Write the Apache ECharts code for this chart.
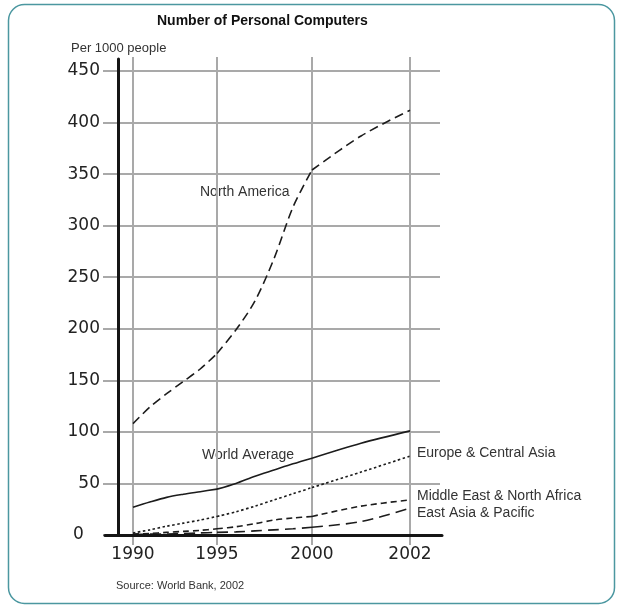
<!DOCTYPE html>
<html>
<head>
<meta charset="utf-8">
<script src="https://cdn.jsdelivr.net/npm/echarts@6/dist/echarts.min.js"></script>
<style>
html,body{margin:0;padding:0;background:#fff;}
#chart{width:619px;height:606px;}
</style>
</head>
<body>
<div id="chart"></div>
<script>
// ---- data ----
const years = [1990, 1991, 1992, 1993, 1994, 1995, 1996, 1997, 1998, 1999, 2000, 2001, 2002];
const northAmerica = [108, 124, 137, 149, 161, 176, 199, 227, 268, 318, 354, 387, 412];
const worldAverage = [27, 32, 36.5, 39.5, 42, 44.5, 50, 57, 63, 69, 74.5, 89, 101];
const europeCentralAsia = [2, 5, 8.5, 11.5, 14.5, 18, 22.5, 28, 34, 40, 46, 61, 76.5];
const middleEastNorthAfrica = [1, 1.5, 2.5, 3.5, 4.5, 6, 8, 11, 14.5, 16.5, 18, 28, 34];
const eastAsiaPacific = [0.5, 0.8, 1, 1.5, 2, 2.5, 3, 4, 5, 6, 7.5, 13, 26];
const yTicks = [0, 450, 50];          // min, max, interval
const xTickYears = [1990, 1995, 2000, 2002];

// ---- layout ----
const GRAY = '#a9a9a9';
const BLACK = '#151515';
const numFont = 'DejaVu Sans';
const txtFont = 'Liberation Sans, Arial, sans-serif';
const segGeom = [[133, 84], [217, 95], [312, 98]];
const segs = [];
for (let i = 0; i < xTickYears.length - 1; i++) segs.push([xTickYears[i], xTickYears[i + 1]]);

const grid = [
  {left: 118, top: 71, width: 322, height: 464},   // 0: horizontal lines
  {left: 118, top: 59, width: 10, height: 476},    // 1: black y axis line
  {left: 105, top: 59, width: 337, height: 476}    // 2: black x axis line
];
segGeom.forEach(g => grid.push({left: g[0], top: 71, width: g[1], height: 464}));

const xAxis = [
  {gridIndex: 0, type: 'value', min: 0, max: 1, show: false},
  {gridIndex: 1, type: 'value', min: 0, max: 1, show: false},
  {gridIndex: 2, type: 'value', min: 0, max: 1, z: 5,
   axisLine: {show: true, onZero: false, lineStyle: {color: BLACK, width: 3}},
   axisTick: {show: false}, axisLabel: {show: false}, splitLine: {show: false}}
];
const yAxis = [
  {gridIndex: 0, type: 'value', min: yTicks[0], max: yTicks[1], interval: yTicks[2],
   axisLine: {show: false},
   axisTick: {show: true, inside: false, length: 15, lineStyle: {color: GRAY, width: 2}},
   axisLabel: {show: true, margin: 18, fontFamily: numFont, fontSize: 17, color: '#222',
               formatter: v => (v === 0 ? '0   ' : String(v))},
   splitLine: {show: true, lineStyle: {color: GRAY, width: 2}}},
  {gridIndex: 1, type: 'value', min: 0, max: 1, z: 5,
   axisLine: {show: true, onZero: false, lineStyle: {color: BLACK, width: 3}},
   axisTick: {show: false}, axisLabel: {show: false}, splitLine: {show: false}},
  {gridIndex: 2, type: 'value', min: 0, max: 1, show: false}
];
segs.forEach((s, i) => {
  const gi = 3 + i;
  const last = i === segs.length - 1;
  xAxis.push({
    gridIndex: gi, type: 'value', position: 'bottom', min: s[0], max: s[1], interval: s[1] - s[0],
    axisLine: {show: false},
    axisTick: {show: true, inside: false, length: 10, lineStyle: {color: GRAY, width: 2}},
    axisLabel: {show: true, showMinLabel: true, showMaxLabel: last, margin: 11,
                fontFamily: numFont, fontSize: 17, color: '#222', formatter: v => String(v)},
    splitLine: {show: true, lineStyle: {color: GRAY, width: 2}}
  });
  yAxis.push({gridIndex: gi, type: 'value', min: yTicks[0], max: yTicks[1], show: false});
});
segs.forEach((s, i) => {
  xAxis.push({
    gridIndex: 3 + i, type: 'value', position: 'top', min: s[0], max: s[1], interval: s[1] - s[0],
    axisLine: {show: false},
    axisTick: {show: true, inside: false, length: 14, lineStyle: {color: GRAY, width: 2}},
    axisLabel: {show: false}, splitLine: {show: false}
  });
});

const seriesDefs = [
  {name: 'North America', data: northAmerica, dash: [9, 5]},
  {name: 'World Average', data: worldAverage, dash: 'solid'},
  {name: 'Europe & Central Asia', data: europeCentralAsia, dash: [2.5, 2.5],
   endLabel: {offset: [0, -3]}},
  {name: 'Middle East & North Africa', data: middleEastNorthAfrica, dash: [6, 4],
   endLabel: {offset: [0, -4]}},
  {name: 'East Asia & Pacific', data: eastAsiaPacific, dash: [11, 6],
   endLabel: {offset: [0, 5]}}
];

const series = [];
seriesDefs.forEach(d => {
  segs.forEach((s, i) => {
    const pts = years.map((y, k) => [y, d.data[k]]).filter(p => p[0] >= s[0] && p[0] <= s[1]);
    const last = i === segs.length - 1;
    const ser = {
      name: d.name, type: 'line', xAxisIndex: 3 + i, yAxisIndex: 3 + i,
      data: pts, smooth: 0.3, showSymbol: false, symbol: 'none', z: 4,
      lineStyle: {color: '#1c1c1c', width: 1.6, type: d.dash},
      silent: true, animation: false
    };
    if (last && d.endLabel) {
      ser.endLabel = {show: true, distance: 7, offset: d.endLabel.offset,
        formatter: d.name, fontFamily: txtFont, fontSize: 14, color: '#333'};
    }
    series.push(ser);
  });
});

const option = {
  animation: false,
  backgroundColor: '#fff',
  grid, xAxis, yAxis, series,
  graphic: [
    {type: 'rect', shape: {x: 8.5, y: 4.5, width: 606, height: 599, r: 16},
     style: {fill: 'none', stroke: '#4b97a0', lineWidth: 1.5}, silent: true},
    {type: 'text', left: 157, top: 14,
     style: {text: 'Number of Personal Computers', font: 'bold 14px ' + txtFont, fill: '#111'}},
    {type: 'text', left: 71, top: 42,
     style: {text: 'Per 1000 people', font: '13px ' + txtFont, fill: '#333'}},
    {type: 'text', left: 200, top: 185,
     style: {text: 'North America', font: '14px ' + txtFont, fill: '#333'}},
    {type: 'text', left: 202, top: 448,
     style: {text: 'World Average', font: '14px ' + txtFont, fill: '#333'}},
    {type: 'text', left: 116, top: 580,
     style: {text: 'Source: World Bank, 2002', font: '11px ' + txtFont, fill: '#333'}}
  ]
};

const chart = echarts.init(document.getElementById('chart'), null, {renderer: 'canvas'});
chart.setOption(option);
</script>
</body>
</html>
